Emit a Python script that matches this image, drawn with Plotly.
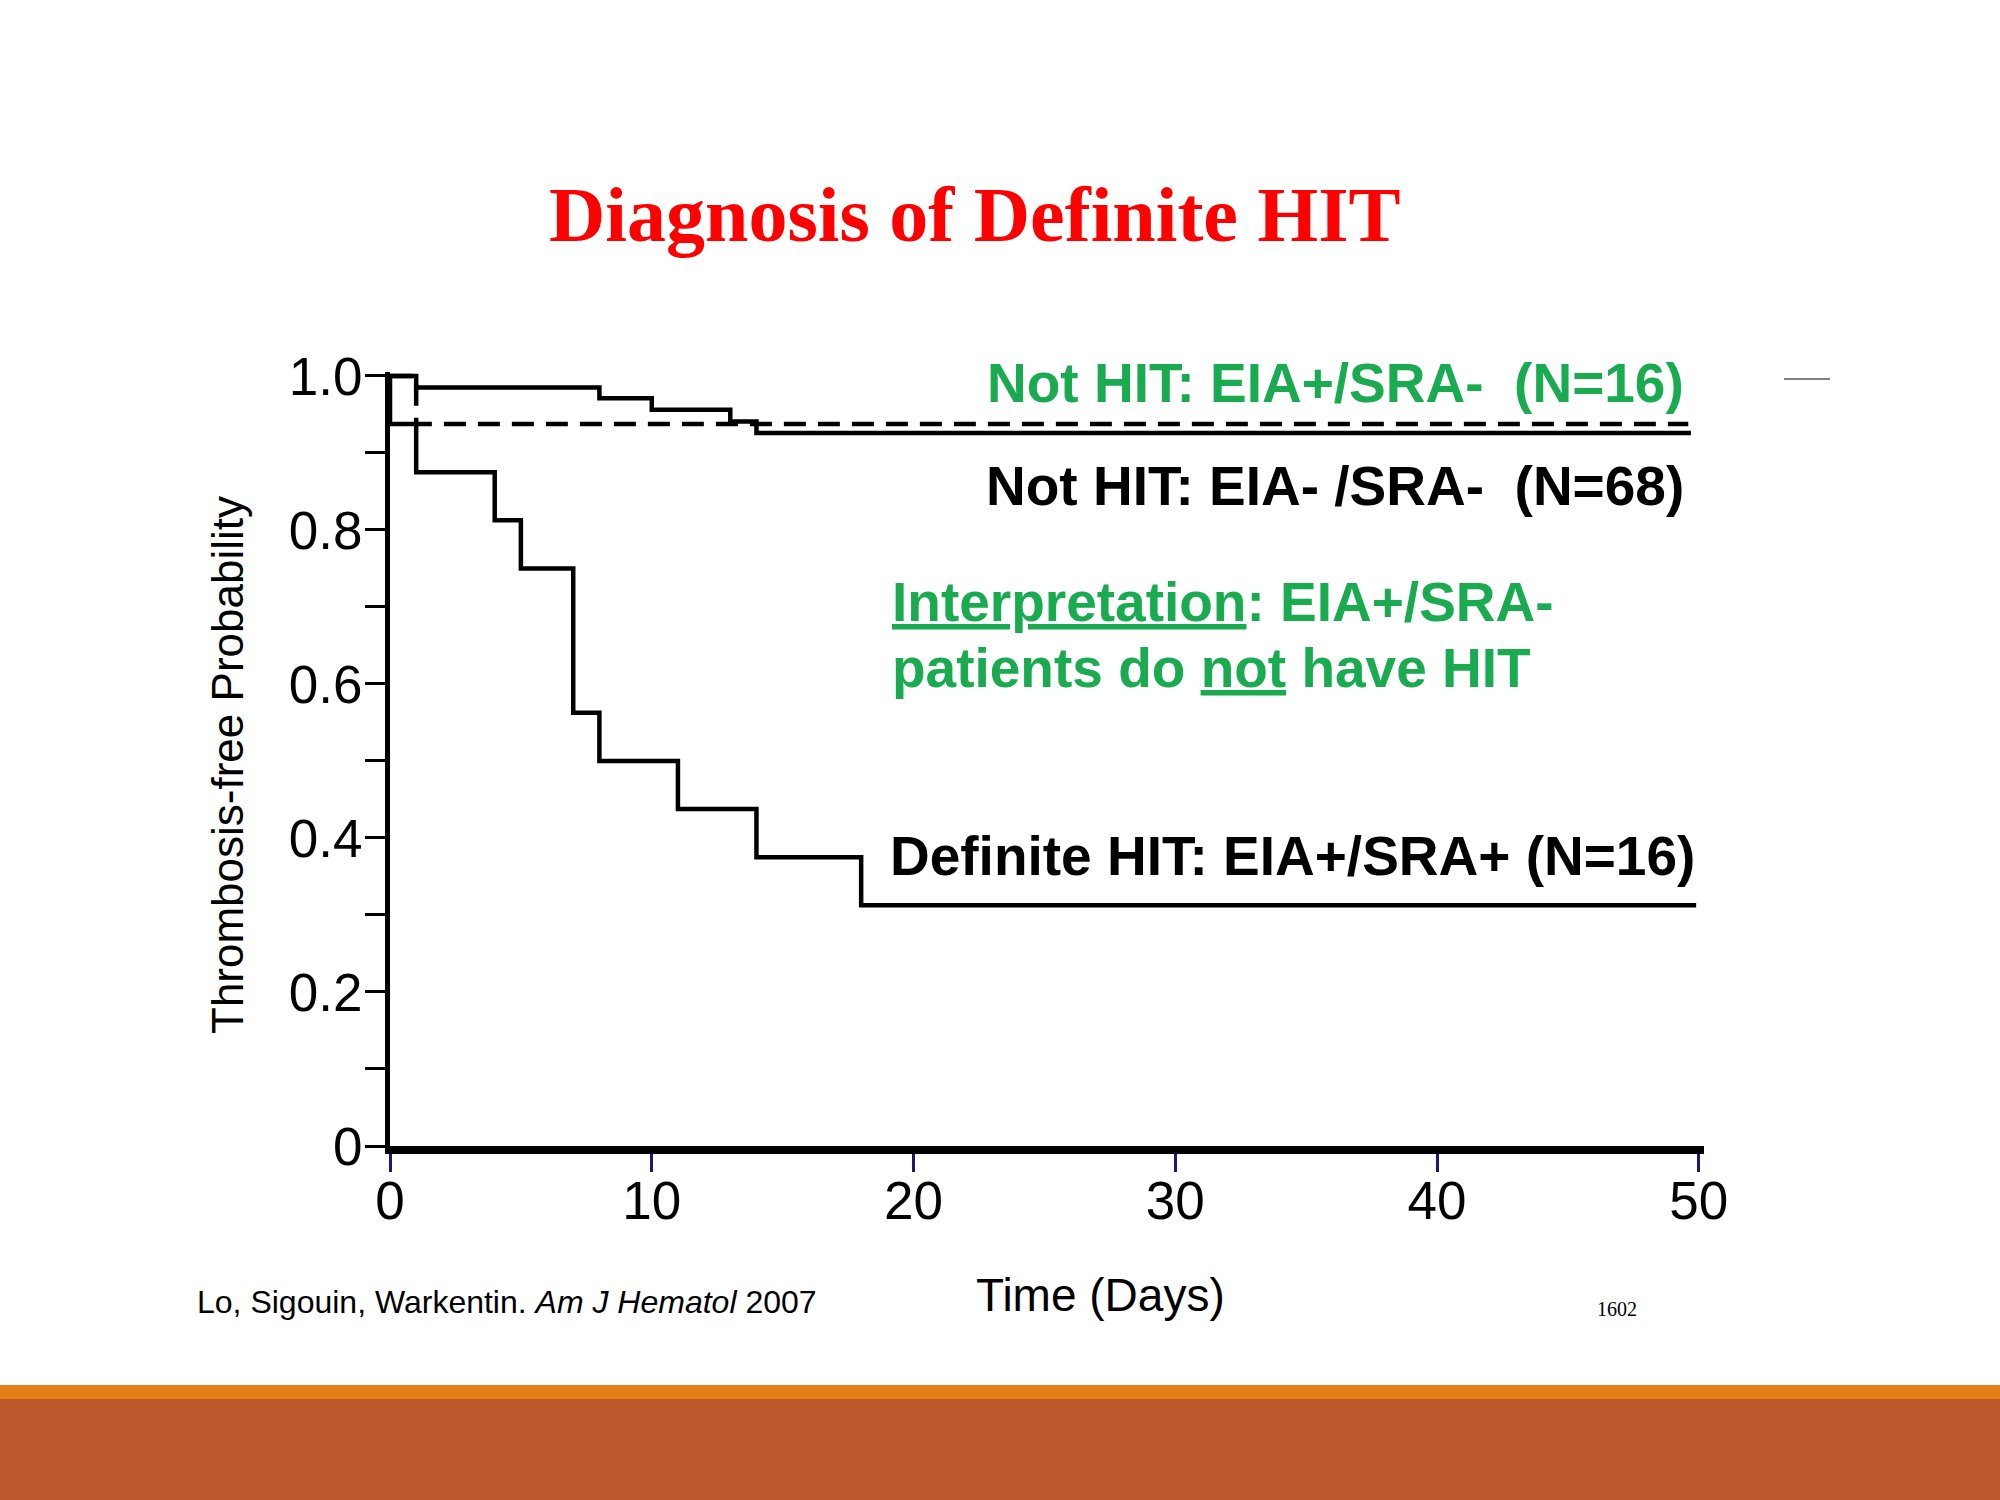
import plotly.graph_objects as go

# ---- data (Kaplan-Meier step curves) ----
days_not_hit_neg = [0, 1, 1, 8, 8, 10, 10, 13, 13, 14, 14, 49.7]
prob_not_hit_neg = [1.0, 1.0, 0.985, 0.985, 0.971, 0.971, 0.956, 0.956, 0.941, 0.941, 0.926, 0.926]

days_not_hit_pos = [0, 1, 1, 49.6]
prob_not_hit_pos = [1.0, 1.0, 0.9375, 0.9375]

days_definite = [0, 0, 1, 1, 4, 4, 5, 5, 7, 7, 8, 8, 11, 11, 14, 14, 18, 18, 49.9]
prob_definite = [1.0, 0.9375, 0.9375, 0.875, 0.875, 0.8125, 0.8125, 0.75, 0.75, 0.5625,
                 0.5625, 0.5, 0.5, 0.4375, 0.4375, 0.375, 0.375, 0.3125, 0.3125]

x_tick_vals = [0, 10, 20, 30, 40, 50]
x_tick_text = ["0", "10", "20", "30", "40", "50"]
y_tick_vals = [0, 0.1, 0.2, 0.3, 0.4, 0.5, 0.6, 0.7, 0.8, 0.9, 1.0]
y_tick_text = ["0", "", "0.2", "", "0.4", "", "0.6", "", "0.8", "", "1.0"]

GREEN = "#1AAA50"
SANS = "Liberation Sans, Arial, sans-serif"
SERIF = "Liberation Serif, Times New Roman, serif"

fig = go.Figure()
fig.add_trace(go.Scatter(x=days_not_hit_neg, y=prob_not_hit_neg, mode="lines",
                         line=dict(color="black", width=4.5), showlegend=False))
fig.add_trace(go.Scatter(x=days_not_hit_pos, y=prob_not_hit_pos, mode="lines",
                         line=dict(color="black", width=4.5, dash="22px,12px"), showlegend=False))
fig.add_trace(go.Scatter(x=days_definite, y=prob_definite, mode="lines",
                         line=dict(color="black", width=4.5), showlegend=False))

W, H = 2000, 1500

def px(x):
    return x / W

def py(y):
    return 1 - y / H

fig.update_layout(
    width=W, height=H,
    margin=dict(l=0, r=0, t=0, b=0, pad=0),
    paper_bgcolor="white", plot_bgcolor="white",
    xaxis=dict(domain=[0.195, 0.852], range=[0, 50.2], automargin=False,
               showgrid=False, zeroline=False,
               showline=True, linewidth=8, linecolor="black",
               tickvals=x_tick_vals, ticktext=x_tick_text,
               ticks="outside", ticklen=18, tickwidth=3, tickcolor="#1a1a6e",
               tickfont=dict(family=SANS, size=53, color="black"),
               ticklabelstandoff=-17),
    yaxis=dict(domain=[0.236, 0.75193], range=[0, 1.005], automargin=False,
               showgrid=False, zeroline=False,
               showline=True, linewidth=5, linecolor="black",
               tickvals=y_tick_vals, ticktext=y_tick_text,
               ticks="outside", ticklen=20, tickwidth=3, tickcolor="black",
               tickfont=dict(family=SANS, size=53, color="black"),
               ticklabelstandoff=-8),
)

annotations = [
    dict(x=px(975), y=py(215), text="<b>Diagnosis of Definite HIT</b>",
         font=dict(family=SERIF, size=78, color="#FF0000"), xanchor="center", yanchor="middle"),
    dict(x=px(1686), y=py(383), text="<b>Not HIT: EIA+/SRA-\u00a0 (N=16)</b>",
         font=dict(family=SANS, size=55, color=GREEN), xanchor="right", yanchor="middle"),
    dict(x=px(1686), y=py(486), text="<b>Not HIT: EIA- /SRA-\u00a0 (N=68)</b>",
         font=dict(family=SANS, size=55, color="black"), xanchor="right", yanchor="middle"),
    dict(x=px(890), y=py(602), text="<b><u>Interpretation</u>: EIA+/SRA-</b>",
         font=dict(family=SANS, size=55, color=GREEN), xanchor="left", yanchor="middle"),
    dict(x=px(890), y=py(668), text="<b>patients do <u>not</u> have HIT</b>",
         font=dict(family=SANS, size=55, color=GREEN), xanchor="left", yanchor="middle"),
    dict(x=px(888), y=py(856), text="<b>Definite HIT: EIA+/SRA+ (N=16)</b>",
         font=dict(family=SANS, size=55, color="black"), xanchor="left", yanchor="middle"),
    dict(x=px(1100), y=py(1295), text="Time (Days)",
         font=dict(family=SANS, size=46, color="black"), xanchor="center", yanchor="middle"),
    dict(x=px(227), y=py(765), text="Thrombosis-free Probability", textangle=-90,
         font=dict(family=SANS, size=44, color="black"), xanchor="center", yanchor="middle"),
    dict(x=px(195), y=py(1302), text="Lo, Sigouin, Warkentin. <i>Am J Hematol</i> 2007",
         font=dict(family=SANS, size=32, color="black"), xanchor="left", yanchor="middle"),
    dict(x=px(1617), y=py(1309), text="1602",
         font=dict(family=SERIF, size=20, color="black"), xanchor="center", yanchor="middle"),
]
for a in annotations:
    a.update(xref="paper", yref="paper", showarrow=False)
fig.update_layout(annotations=annotations)

shapes = [
    dict(type="rect", xref="paper", yref="paper", x0=0, x1=1, y0=py(1399), y1=py(1385),
         fillcolor="#E4801A", line=dict(width=0), layer="below"),
    dict(type="rect", xref="paper", yref="paper", x0=0, x1=1, y0=0, y1=py(1399),
         fillcolor="#BC582C", line=dict(width=0), layer="below"),
    dict(type="line", xref="paper", yref="paper", x0=px(1784), x1=px(1830), y0=py(379), y1=py(379),
         line=dict(color="#808080", width=2)),
]
fig.update_layout(shapes=shapes)

fig.write_html("out.html")
